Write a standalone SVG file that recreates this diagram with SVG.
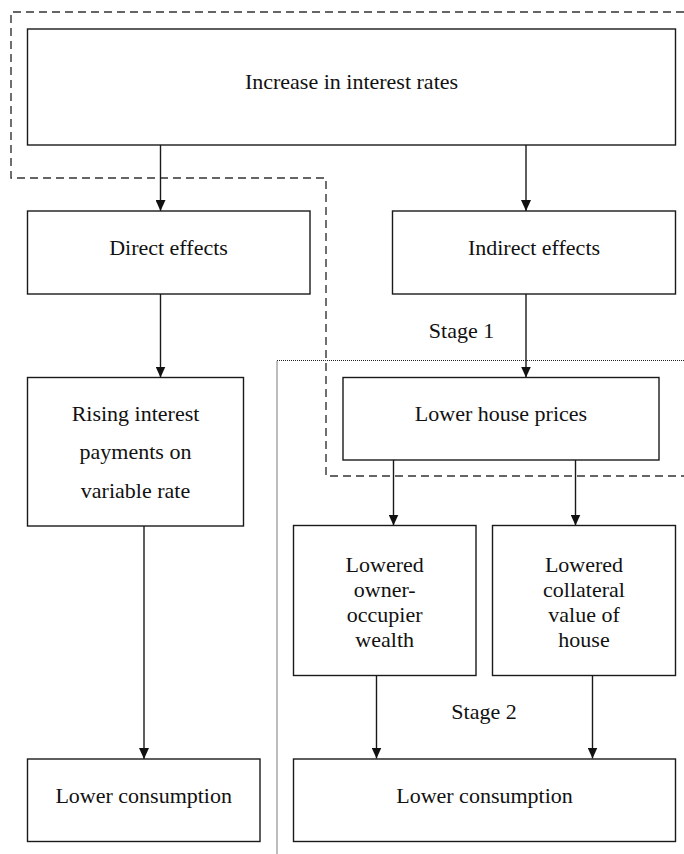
<svg xmlns="http://www.w3.org/2000/svg" width="684" height="854" viewBox="0 0 684 854">
<style>
.box{fill:#fff;stroke:#1a1a1a;stroke-width:1.4}
.t{font-family:"Liberation Serif","Times New Roman","DejaVu Serif",serif;font-size:22px;fill:#111;text-anchor:middle}
.c{stroke:#1a1a1a;stroke-width:1.4;fill:none}
.dash{fill:none;stroke:#333;stroke-width:1.4;stroke-dasharray:8,5}
.dot{fill:none;stroke:#222;stroke-width:1.2;stroke-dasharray:1,1}
</style>
<defs>
<marker id="arr" viewBox="0 0 11 10" refX="11" refY="5" markerWidth="11" markerHeight="10" markerUnits="userSpaceOnUse" orient="auto">
<path d="M0,0 L11,5 L0,10 z" fill="#111"/>
</marker>
</defs>
<rect width="684" height="854" fill="#fff"/>
<g id="regions">
<path class="dash" d="M684,12 H11 V178 H326 V476 H684"/>
<path class="dot" d="M684,360.5 H277 V854"/>
</g>
<g id="connectors">
<line class="c" x1="160.5" y1="145" x2="160.5" y2="211" marker-end="url(#arr)"/>
<line class="c" x1="526" y1="145" x2="526" y2="211" marker-end="url(#arr)"/>
<line class="c" x1="160.5" y1="294" x2="160.5" y2="377.5" marker-end="url(#arr)"/>
<line class="c" x1="526" y1="294" x2="526" y2="377.5" marker-end="url(#arr)"/>
<line class="c" x1="393.5" y1="460" x2="393.5" y2="525.5" marker-end="url(#arr)"/>
<line class="c" x1="575.5" y1="460" x2="575.5" y2="525.5" marker-end="url(#arr)"/>
<line class="c" x1="144" y1="526" x2="144" y2="759" marker-end="url(#arr)"/>
<line class="c" x1="376.5" y1="675.5" x2="376.5" y2="758.5" marker-end="url(#arr)"/>
<line class="c" x1="592.5" y1="675.5" x2="592.5" y2="758.5" marker-end="url(#arr)"/>
</g>
<g id="increase">
<rect class="box" x="27.5" y="29" width="648" height="116"/>
<text class="t" x="351.5" y="89.3">Increase in interest rates</text>
</g>
<g id="direct">
<rect class="box" x="27.5" y="211" width="282.5" height="83"/>
<text class="t" x="168.5" y="255">Direct effects</text>
</g>
<g id="indirect">
<rect class="box" x="392.5" y="211" width="283" height="83"/>
<text class="t" x="534" y="255">Indirect effects</text>
</g>
<g id="stage1">
<text class="t" x="461.5" y="338">Stage 1</text>
</g>
<g id="rising">
<rect class="box" x="27.5" y="377.5" width="216" height="148.5"/>
<text class="t" x="135.5" y="420.5">Rising interest</text>
<text class="t" x="135.5" y="459">payments on</text>
<text class="t" x="135.5" y="497.5">variable rate</text>
</g>
<g id="houseprices">
<rect class="box" x="343" y="377.5" width="316" height="82.5"/>
<text class="t" x="501" y="420.7">Lower house prices</text>
</g>
<g id="wealth">
<rect class="box" x="293.5" y="525.5" width="182.5" height="150"/>
<text class="t" x="384.7" y="571.7">Lowered</text>
<text class="t" x="384.7" y="597">owner-</text>
<text class="t" x="384.7" y="622">occupier</text>
<text class="t" x="384.7" y="647">wealth</text>
</g>
<g id="collateral">
<rect class="box" x="492.5" y="525.5" width="183" height="150"/>
<text class="t" x="584" y="571.7">Lowered</text>
<text class="t" x="584" y="597">collateral</text>
<text class="t" x="584" y="622">value of</text>
<text class="t" x="584" y="647">house</text>
</g>
<g id="stage2">
<text class="t" x="484" y="719">Stage 2</text>
</g>
<g id="consumption-left">
<rect class="box" x="27.5" y="759" width="232.5" height="82.5"/>
<text class="t" x="143.7" y="802.7">Lower consumption</text>
</g>
<g id="consumption-right">
<rect class="box" x="293.5" y="759" width="382" height="82.5"/>
<text class="t" x="484.5" y="802.7">Lower consumption</text>
</g>
</svg>
